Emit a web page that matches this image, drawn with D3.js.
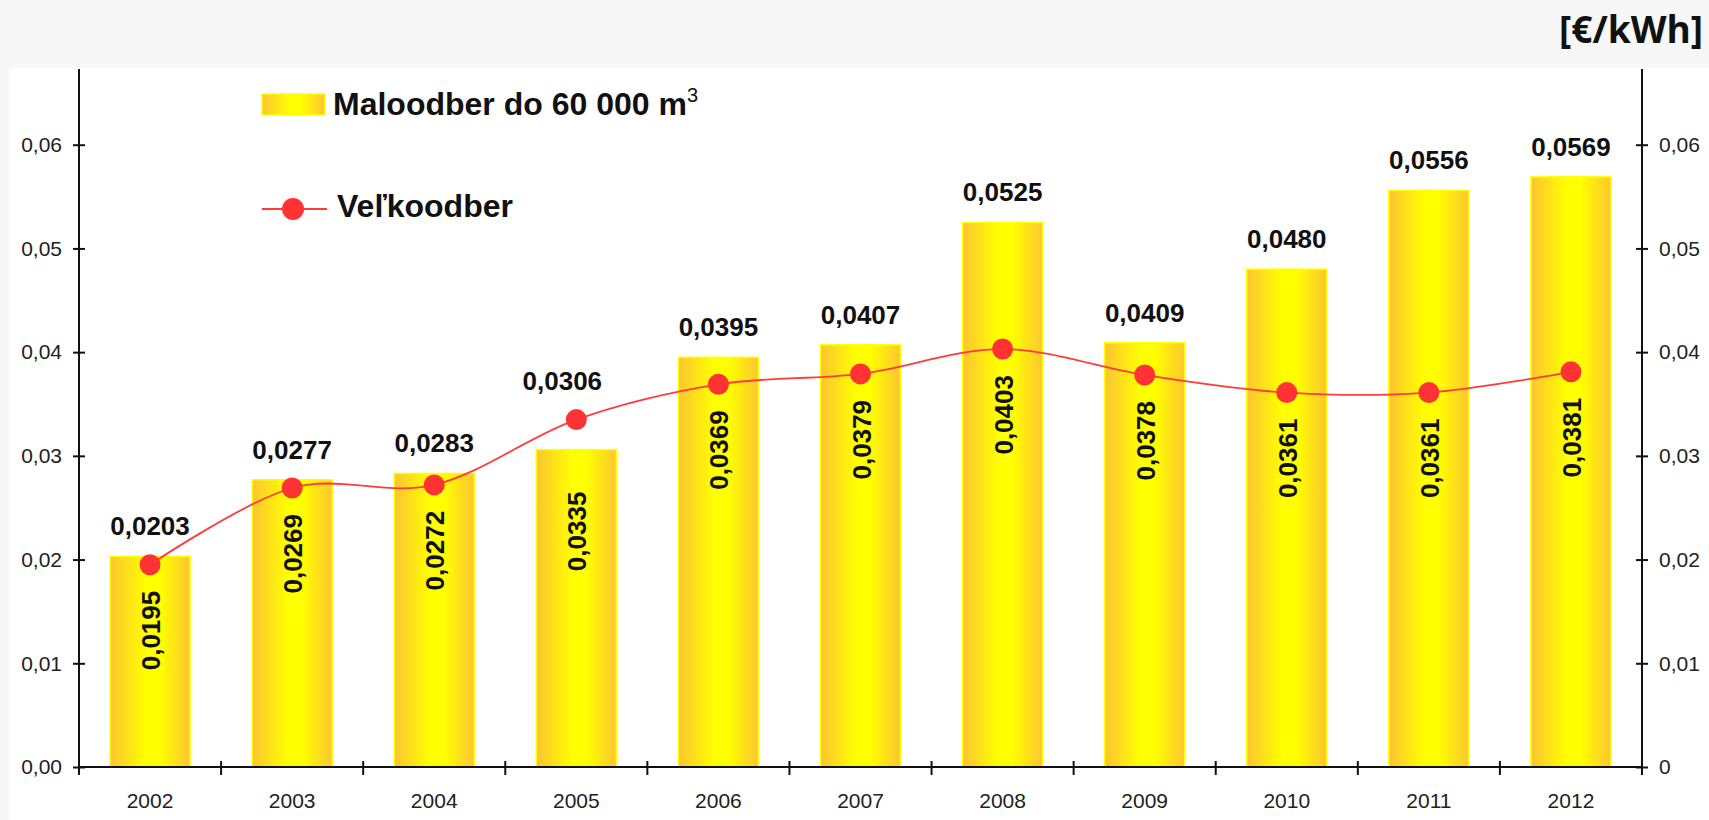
<!DOCTYPE html>
<html>
<head>
    <meta charset="utf-8">
    <title>Ceny plynu</title>
    <script src="https://d3js.org/d3.v7.min.js"></script>
    <style type="text/css">
        body {
            margin: 0;
            background-color: #f7f7f7;
            font-family: "Liberation Sans", Arial, sans-serif;
        }

        .tick text {
            font-size: 21px;
            fill: #222;
        }

        .domain, .tick line, .xtick {
            stroke: #111;
            stroke-width: 2px;
        }

        .top-label, .in-label {
            font-size: 26px;
            font-weight: bold;
            fill: #111;
        }
    </style>
</head>
<body>

<div id="chart"></div>

<script type="text/javascript">
    const years = ["2002", "2003", "2004", "2005", "2006", "2007", "2008", "2009", "2010", "2011", "2012"];
    const maloodber = [0.0203, 0.0277, 0.0283, 0.0306, 0.0395, 0.0407, 0.0525, 0.0409, 0.0480, 0.0556, 0.0569];
    const velkoodber = [0.0195, 0.0269, 0.0272, 0.0335, 0.0369, 0.0379, 0.0403, 0.0378, 0.0361, 0.0361, 0.0381];
    const yTicks = [0, 0.01, 0.02, 0.03, 0.04, 0.05, 0.06];
    const legendLabels = ["Maloodber do 60 000 m", "Veľkoodber"];
    const unitLabel = "[€/kWh]";

    const W = 1709, H = 820;
    const plotL = 79, plotR = 1642, plotT = 69, plotB = 767;

    const svg = d3.select("#chart").append("svg")
        .attr("width", W)
        .attr("height", H)
        .style("display", "block");

    // gradient for the bars (orange edges, yellow middle)
    const grad = svg.append("defs").append("linearGradient")
        .attr("id", "barGrad")
        .attr("x1", "0%").attr("x2", "100%").attr("y1", "0%").attr("y2", "0%");
    grad.append("stop").attr("offset", "0%").attr("stop-color", "#fcc431");
    grad.append("stop").attr("offset", "45%").attr("stop-color", "#ffff00");
    grad.append("stop").attr("offset", "62%").attr("stop-color", "#ffff00");
    grad.append("stop").attr("offset", "100%").attr("stop-color", "#fdc630");

    svg.append("rect")
        .attr("x", 9).attr("y", 68)
        .attr("width", W - 9).attr("height", H - 68)
        .attr("fill", "#fff");

    svg.append("text")
        .attr("x", 1703).attr("y", 43)
        .attr("text-anchor", "end")
        .attr("font-family", "'Open Sans', sans-serif")
        .attr("font-weight", "bold")
        .attr("font-size", 37)
        .attr("fill", "#111")
        .text(unitLabel);

    const x = d3.scaleBand()
        .domain(years)
        .range([plotL, plotR])
        .paddingInner(0.437)
        .paddingOuter(0.2185);

    const y = d3.scaleLinear()
        .domain([0, 0.0673])
        .range([plotB, plotT]);

    const cx = d => x(d) + x.bandwidth() / 2;
    const fmt = v => v.toFixed(4).replace(".", ",");
    // is the marker sitting above its bar?
    const above = i => velkoodber[i] > maloodber[i];

    // bars
    svg.append("g")
        .selectAll("rect")
        .data(years)
        .join("rect")
        .attr("x", d => x(d))
        .attr("y", (d, i) => y(maloodber[i]))
        .attr("width", x.bandwidth())
        .attr("height", (d, i) => plotB - y(maloodber[i]))
        .attr("fill", "url(#barGrad)")
        .attr("stroke", "#ffff00")
        .attr("stroke-width", 1.5);

    // axes
    const yLeft = d3.axisLeft(y).tickValues(yTicks).tickSize(0).tickPadding(17)
        .tickFormat(d => d.toFixed(2).replace(".", ","));
    const yRight = d3.axisRight(y).tickValues(yTicks).tickSize(0).tickPadding(17)
        .tickFormat(d => d === 0 ? "0" : d.toFixed(2).replace(".", ","));

    const gl = svg.append("g").attr("transform", `translate(${plotL},0)`).call(yLeft);
    const gr = svg.append("g").attr("transform", `translate(${plotR},0)`).call(yRight);
    [gl, gr].forEach(g => {
        g.select(".domain").attr("d", `M0,${plotT}V${plotB}`);
        g.selectAll(".tick line").attr("x1", -6).attr("x2", 6);
    });

    const xAxis = d3.axisBottom(x).tickSize(0).tickPadding(26);
    const gx = svg.append("g").attr("transform", `translate(0,${plotB})`).call(xAxis);
    gx.select(".domain").attr("d", `M${plotL},0H${plotR}`);

    svg.append("g")
        .selectAll("line")
        .data(d3.range(years.length + 1))
        .join("line")
        .attr("class", "xtick")
        .attr("x1", i => plotL + i * x.step())
        .attr("x2", i => plotL + i * x.step())
        .attr("y1", plotB - 6)
        .attr("y2", plotB + 8);

    // line series
    const line = d3.line()
        .x((d, i) => cx(years[i]))
        .y(d => y(d))
        .curve(d3.curveCardinal.tension(0));

    svg.append("path")
        .datum(velkoodber)
        .attr("d", line)
        .attr("fill", "none")
        .attr("stroke", "#ff3b3b")
        .attr("stroke-width", 1.8);

    svg.append("g")
        .selectAll("circle")
        .data(velkoodber)
        .join("circle")
        .attr("cx", (d, i) => cx(years[i]))
        .attr("cy", d => y(d))
        .attr("r", 10.5)
        .attr("fill", "#ff3333");

    // value labels
    svg.append("g")
        .selectAll("text")
        .data(maloodber)
        .join("text")
        .attr("class", "top-label")
        .attr("x", (d, i) => cx(years[i]) - (above(i) ? 14 : 0))
        .attr("y", (d, i) => above(i) ? y(velkoodber[i]) - 30 : y(d) - 21)
        .attr("text-anchor", "middle")
        .text(fmt);

    svg.append("g")
        .selectAll("text")
        .data(velkoodber)
        .join("text")
        .attr("class", "in-label")
        .attr("transform", (d, i) => {
            const ty = above(i) ? y(maloodber[i]) + 42 : y(d) + 26;
            return `translate(${cx(years[i]) + 10},${ty}) rotate(-90)`;
        })
        .attr("text-anchor", "end")
        .text(fmt);

    // legend
    const lg = svg.append("g");
    lg.append("rect")
        .attr("x", 262).attr("y", 94)
        .attr("width", 63).attr("height", 21)
        .attr("fill", "url(#barGrad)")
        .attr("stroke", "#ffff00")
        .attr("stroke-width", 1.5);
    const t1 = lg.append("text")
        .attr("x", 333).attr("y", 115)
        .attr("font-size", 32)
        .attr("font-weight", "bold")
        .attr("fill", "#111")
        .text(legendLabels[0]);
    t1.append("tspan")
        .attr("dy", -13)
        .attr("font-size", 20)
        .attr("font-weight", "normal")
        .text("3");

    lg.append("line")
        .attr("x1", 262).attr("x2", 327)
        .attr("y1", 209).attr("y2", 209)
        .attr("stroke", "#ff3b3b")
        .attr("stroke-width", 1.8);
    lg.append("circle")
        .attr("cx", 293).attr("cy", 209).attr("r", 11)
        .attr("fill", "#ff3333");
    lg.append("text")
        .attr("x", 337).attr("y", 217)
        .attr("font-size", 32)
        .attr("font-weight", "bold")
        .attr("fill", "#111")
        .text(legendLabels[1]);
</script>

</body>
</html>
